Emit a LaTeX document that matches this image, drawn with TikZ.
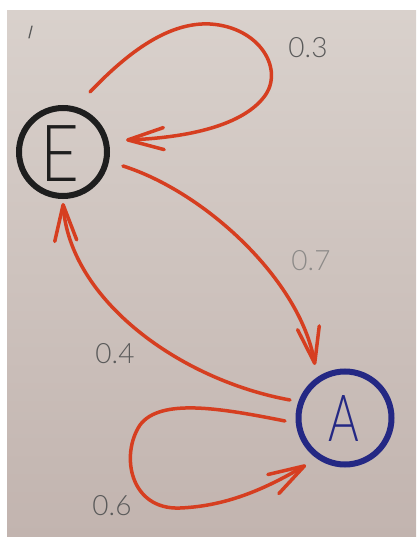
\documentclass[tikz,border=0pt]{standalone}
\usepackage{fontspec}
\usetikzlibrary{arrows.meta,calc}
% pen and pencil lettering; fall back to the regular weight if a light cut is absent
\IfFontExistsTF{Lato Light}{\newfontfamily\penfont{Lato Light}}{\newfontfamily\penfont{Lato}}
\IfFontExistsTF{Lato Light}{\newfontfamily\pencilfont{Lato Light}}{\newfontfamily\pencilfont{Lato}}
\definecolor{paperTop}{RGB}{217,209,204}
\definecolor{paperBot}{RGB}{194,180,175}
\definecolor{inkRed}{RGB}{214,62,32}
\definecolor{inkBlack}{RGB}{30,30,30}
\definecolor{inkBlue}{RGB}{36,40,132}
\definecolor{pencil}{RGB}{90,90,90}
\definecolor{pencilLight}{RGB}{140,138,136}
\tikzset{
  state/.style={circle, minimum size=#1, inner sep=0pt, line width=6pt},
  letter/.style={inner sep=0pt, font=\penfont\fontsize{#1}{#1}\selectfont},
  link/.style={draw=inkRed, line width=3.5pt, line cap=round, line join=round,
    -{Straight Barb[length=36pt,width=22pt,line cap=round,line join=round]}},
  prob/.style={font=\pencilfont\fontsize{28}{28}\selectfont, text=pencil, inner sep=0pt}
}
\begin{document}
\begin{tikzpicture}[x=1pt,y=-1pt]
\useasboundingbox (0,0) rectangle (416,537);
% sheet of paper
\fill[white] (0,0) rectangle (416,537);
\shade[top color=paperTop, bottom color=paperBot] (7,11) rectangle (416,537);
% pencil tick in the corner
\draw[pencil, line width=1.3pt, line cap=round] (32,26) -- (29,38);

% states
\node[state=88pt, draw=inkBlack] (E) at (63,152) {};
\node[letter=79, text=inkBlack, xscale=0.85] (Elbl) at (60,153.5) {E};
\node[state=93pt, draw=inkBlue] (A) at (345,418) {};
\node[letter=65, text=inkBlue, xscale=0.72] (Albl) at (343.5,418.5) {A};

% E -> E
\draw[link] ($(E)+(27,-60)$) .. controls (130,50) and (170,22) .. (210,24)
  .. controls (260,27) and (285,70) .. (264,97)
  .. controls (240,128) and (180,138) .. ($(E)+(63,-12)$);
% E -> A
\draw[link] ($(E)+(60,14)$) .. controls (205,192) and (300,280) .. ($(A)+(-30,-53)$);
% A -> E
\draw[link] ($(A)+(-55,-18)$) .. controls (180,380) and (70,300) .. ($(E)+(0,51)$);
% A -> A
\draw[link] ($(A)+(-60,3)$) .. controls (220,408) and (160,398) .. (140,425)
  .. controls (120,455) and (130,510) .. (180,508)
  .. controls (230,506) and (270,486) .. ($(A)+(-39,47)$);

% transition probabilities
\node[prob] (p33) at (308,48) {0.3};
\node[prob, text=pencilLight] (p37) at (311,261) {0.7};
\node[prob] (p34) at (115,354) {0.4};
\node[prob] (p36) at (112,506) {0.6};
\end{tikzpicture}
\end{document}
